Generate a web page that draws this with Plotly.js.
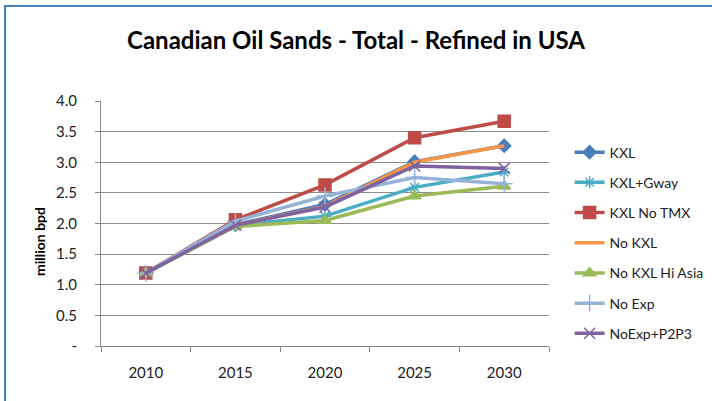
<!DOCTYPE html>
<html><head><meta charset="utf-8">
<script src="https://cdn.plot.ly/plotly-3.0.1.min.js"></script>
<style>html,body{margin:0;padding:0;background:#fff;}#wrap{position:relative;width:712px;height:401px;overflow:hidden;}#chart{width:712px;height:401px;}#frame{position:absolute;left:4px;top:5px;width:720px;height:420px;border:2px solid #4A7EBB;box-sizing:border-box;pointer-events:none;}</style>
</head><body>
<div id="wrap"><div id="chart"></div><div id="frame"></div></div>
<script>
const years = ["2010","2015","2020","2025","2030"];
const seriesNames = ["KXL","KXL+Gway","KXL No TMX","No KXL","No KXL Hi Asia","No Exp","NoExp+P2P3"];
const kxl        = [1.19, 1.98, 2.31, 3.01, 3.27];
const kxlGway    = [1.19, 1.97, 2.12, 2.59, 2.84];
const kxlNoTmx   = [1.19, 2.06, 2.63, 3.40, 3.67];
const noKxl      = [1.19, 1.97, 2.28, 3.00, 3.27];
const noKxlAsia  = [1.19, 1.95, 2.05, 2.45, 2.61];
const noExp      = [1.19, 2.04, 2.45, 2.75, 2.65];
const noExpP2P3  = [1.19, 1.97, 2.27, 2.94, 2.90];
const yTickVals  = [0,0.5,1,1.5,2,2.5,3,3.5,4];
const yTickText  = ["-","0.5","1.0","1.5","2.0","2.5","3.0","3.5","4.0"];

const values = [kxl,kxlGway,kxlNoTmx,noKxl,noKxlAsia,noExp,noExpP2P3];
const colors = ["#4A7EBB","#4BACC6","#BE4B48","#F79646","#9BBB59","#95B3D7","#7F63A1"];
const symbols = ["diamond","asterisk-open","square","circle","triangle-up","cross-thin-open","x-thin-open"];
const sizes = [10,10,12,0,11,12,11];

const traces = values.map((v,i)=>({
  x: years, y: v, name: seriesNames[i], type:"scatter",
  mode: sizes[i] ? "lines+markers" : "lines",
  legendgroup: "g"+i,
  line:{color:colors[i], width:3.5},
  marker:{symbol:symbols[i], size:sizes[i], color:colors[i], line:{color:colors[i], width:1.5}}
}));

const layout = {
  width:712, height:401,
  margin:{l:101, r:163, t:101, b:55, autoexpand:false},
  paper_bgcolor:"#fff", plot_bgcolor:"#fff",
  font:{family:"Lato, 'Open Sans', sans-serif", size:14, color:"#222"},
  title:{text:"<b>Canadian Oil Sands - Total - Refined in USA</b>", x:0.5, xanchor:"center", y:0.9, yanchor:"middle",
         font:{family:"Lato, sans-serif", size:24, color:"#000"}},
  xaxis:{type:"category", range:[-0.5,4.5], showgrid:false, zeroline:false,
         showline:true, linecolor:"#888", linewidth:1,
         ticks:"outside", tickson:"boundaries", ticklen:5, tickcolor:"#888",
         ticklabelstandoff:13, tickfont:{size:15, color:"#222"}},
  yaxis:{range:[0,4], tickvals:yTickVals, ticktext:yTickText,
         showgrid:true, gridcolor:"#8c8c8c", gridwidth:1, zeroline:false,
         showline:true, linecolor:"#888", linewidth:1,
         ticks:"outside", ticklen:5, tickcolor:"#888", ticklabelstandoff:15,
         tickfont:{size:15, color:"#222"}},
  annotations:[{text:"<b>million bpd</b>", textangle:-90, xref:"paper", yref:"paper",
                x:(39-101)/448, y:(346-242)/245, xanchor:"center", yanchor:"middle",
                showarrow:false, font:{size:14, color:"#000"}}],
  legend:{x:1.046, xanchor:"left", y:0.855, yanchor:"top", tracegroupgap:9,
          font:{size:14, color:"#222"}, bgcolor:"rgba(0,0,0,0)"},
  showlegend:true
};
Plotly.newPlot("chart", traces, layout, {displayModeBar:false, staticPlot:true});
</script>
</body></html>
